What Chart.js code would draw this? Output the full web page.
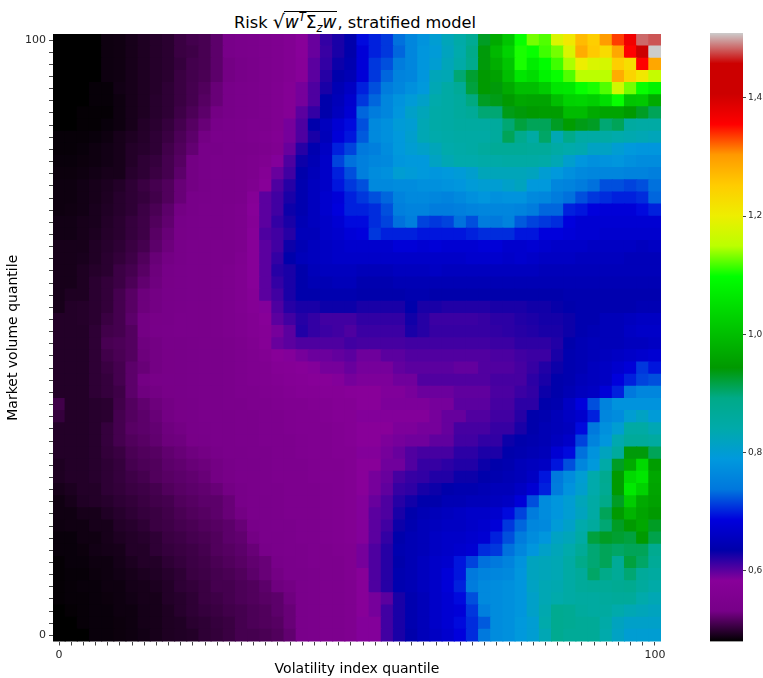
<!DOCTYPE html>
<html><head><meta charset="utf-8">
<script src="https://cdn.jsdelivr.net/npm/chart.js@4"></script>
<style>
html,body{margin:0;padding:0;background:#fff;width:763px;height:678px;overflow:hidden}
canvas{position:absolute;display:block}
#title{position:absolute;left:-2px;width:714px;top:11px;text-align:center;font:16.2px "DejaVu Sans";color:#000;white-space:nowrap;line-height:24px}
#title i{font-style:italic}
#title sup,#title sub{font-size:11.5px;line-height:0}
#title .r{font-size:19px;line-height:0}
#title .o{display:inline-block;border-top:1px solid #000;line-height:19px;padding:1px 1px 0 1px;font-size:17px;margin-left:-1px}
</style></head><body>
<div id="title">Risk <span class="r">√</span><span class="o"><i>w</i><sup><i>T</i></sup>Σ<sub><i>z</i></sub><i>w</i></span>, stratified model</div>
<canvas id="heat" style="left:0;top:0" width="700" height="678"></canvas>
<canvas id="bar" style="left:700px;top:0" width="63" height="678"></canvas>
<script>
const xTitle = 'Volatility index quantile';
const yTitle = 'Market volume quantile';
const axisTickLabels = {0:'0',49:'100'};
const colorbarTicks = [0.6,0.8,1.0,1.2,1.4];
const vMin = 0.48, vMax = 1.51;
const cmapR = [0,.4667,.5333,0,0,0,0,0,0,0,0,0,0,.7333,.9333,1,1,1,.8,.8,.8];
const cmapG = [0,0,0,0,0,.4667,.6,.6667,.6667,.6,.7333,.8667,1,1,.9333,.8,.6,0,0,0,.8];
const cmapB = [0,.5333,.6,.6667,.8667,.8667,.8667,.6667,.5333,0,0,0,0,0,0,0,0,0,0,0,.8];
// rows listed top (quantile 100) to bottom (quantile 0); columns 0-24
const riskLeft = [
[.48,.48,.48,.48,.486,.487,.49,.493,.496,.498,.505,.509,.511,.52,.535,.54,.545,.55,.555,.565,.583,.595,.615,.625,.635],
[.48,.48,.48,.48,.486,.487,.49,.493,.496,.498,.505,.507,.511,.52,.535,.54,.545,.55,.555,.565,.583,.595,.613,.625,.635],
[.48,.48,.48,.48,.486,.487,.49,.493,.496,.498,.503,.509,.511,.52,.53,.535,.54,.55,.555,.565,.58,.60,.615,.63,.64],
[.48,.48,.48,.48,.486,.487,.49,.493,.496,.498,.505,.509,.512,.52,.53,.535,.54,.55,.555,.565,.58,.60,.62,.635,.645],
[.48,.48,.48,.483,.483,.488,.49,.493,.496,.50,.505,.51,.515,.525,.535,.54,.545,.55,.56,.57,.59,.605,.625,.645,.66],
[.48,.48,.48,.483,.483,.486,.49,.493,.497,.50,.505,.51,.517,.525,.535,.54,.545,.55,.56,.57,.59,.605,.635,.65,.67],
[.48,.48,.482,.482,.482,.486,.49,.493,.497,.50,.507,.513,.52,.53,.535,.54,.545,.55,.56,.57,.60,.615,.635,.655,.675],
[.48,.48,.482,.482,.484,.486,.49,.495,.498,.503,.51,.517,.525,.535,.54,.545,.55,.55,.56,.59,.605,.635,.655,.675,.69],
[.483,.483,.483,.484,.486,.49,.493,.496,.50,.505,.513,.52,.53,.54,.54,.545,.55,.555,.565,.59,.605,.625,.65,.68,.695],
[.483,.483,.484,.486,.488,.49,.495,.497,.50,.508,.515,.523,.535,.535,.54,.54,.545,.55,.56,.595,.62,.64,.66,.70,.715],
[.484,.484,.485,.486,.488,.49,.495,.50,.503,.51,.517,.53,.535,.54,.54,.545,.55,.56,.585,.605,.63,.645,.665,.715,.735],
[.485,.485,.486,.488,.49,.49,.497,.50,.505,.51,.52,.53,.535,.54,.54,.545,.55,.57,.595,.61,.635,.65,.665,.70,.72],
[.486,.486,.488,.49,.492,.495,.50,.505,.51,.515,.525,.53,.535,.54,.54,.545,.555,.58,.605,.62,.64,.655,.665,.695,.71],
[.486,.486,.488,.49,.493,.497,.50,.503,.508,.515,.525,.535,.538,.54,.54,.545,.575,.60,.61,.625,.64,.655,.67,.68,.70],
[.486,.487,.488,.491,.494,.497,.50,.506,.512,.52,.53,.535,.54,.54,.545,.55,.58,.60,.61,.63,.64,.655,.67,.685,.70],
[.488,.488,.49,.491,.495,.498,.503,.507,.515,.522,.532,.537,.54,.54,.545,.55,.575,.60,.615,.625,.645,.655,.665,.675,.69],
[.488,.488,.49,.492,.496,.498,.503,.507,.518,.525,.533,.537,.54,.54,.545,.55,.58,.605,.61,.62,.65,.65,.665,.67,.68],
[.49,.49,.49,.494,.497,.50,.505,.51,.52,.527,.535,.54,.54,.545,.545,.55,.58,.60,.61,.63,.645,.655,.66,.665,.67],
[.49,.49,.491,.494,.498,.502,.507,.515,.525,.53,.535,.54,.54,.545,.545,.555,.58,.60,.615,.635,.65,.655,.66,.665,.665],
[.49,.49,.493,.496,.498,.506,.51,.518,.527,.532,.537,.54,.54,.545,.55,.56,.58,.60,.62,.625,.635,.65,.655,.655,.655],
[.49,.49,.493,.498,.502,.506,.513,.522,.528,.533,.537,.54,.54,.545,.55,.56,.58,.60,.615,.625,.635,.645,.645,.65,.65],
[.49,.493,.493,.498,.502,.51,.518,.527,.53,.535,.537,.54,.54,.545,.55,.56,.575,.60,.61,.625,.635,.635,.64,.64,.64],
[.49,.495,.496,.498,.502,.51,.518,.527,.53,.535,.537,.54,.54,.545,.55,.56,.57,.585,.605,.62,.625,.625,.63,.63,.63],
[.495,.495,.496,.498,.505,.51,.52,.53,.533,.535,.54,.54,.54,.545,.55,.555,.565,.58,.60,.61,.62,.615,.61,.61,.61],
[.495,.495,.495,.50,.508,.51,.516,.53,.535,.537,.54,.54,.54,.545,.55,.555,.565,.575,.59,.60,.622,.615,.612,.61,.605],
[.495,.495,.495,.50,.511,.513,.516,.528,.53,.535,.535,.537,.54,.54,.545,.55,.56,.575,.595,.60,.605,.605,.605,.605,.61],
[.495,.495,.495,.50,.508,.512,.516,.527,.53,.533,.535,.537,.54,.54,.545,.55,.555,.565,.58,.585,.59,.594,.594,.597,.60],
[.495,.495,.495,.50,.505,.51,.52,.525,.53,.533,.535,.537,.54,.54,.545,.55,.555,.56,.57,.575,.58,.585,.59,.59,.595],
[.495,.495,.495,.50,.503,.51,.52,.53,.533,.535,.535,.537,.54,.54,.545,.55,.555,.56,.565,.57,.575,.58,.58,.585,.59],
[.495,.495,.495,.50,.503,.507,.52,.528,.53,.533,.535,.537,.54,.54,.545,.55,.55,.555,.56,.565,.57,.57,.575,.575,.58],
[.508,.495,.495,.497,.498,.508,.516,.522,.527,.53,.533,.535,.54,.54,.545,.545,.55,.55,.555,.56,.56,.565,.565,.57,.57],
[.503,.495,.495,.497,.498,.51,.516,.52,.525,.53,.533,.535,.54,.54,.54,.545,.545,.55,.55,.555,.56,.56,.565,.57,.57],
[.495,.495,.495,.497,.503,.51,.518,.52,.523,.528,.53,.535,.537,.54,.54,.545,.545,.55,.55,.555,.56,.56,.56,.565,.57],
[.495,.495,.495,.497,.503,.51,.515,.518,.522,.527,.528,.533,.535,.54,.54,.545,.545,.55,.55,.55,.555,.56,.56,.565,.57],
[.495,.495,.495,.497,.502,.505,.512,.515,.517,.522,.525,.528,.53,.535,.54,.54,.545,.545,.55,.55,.555,.56,.56,.565,.565],
[.493,.495,.495,.497,.50,.503,.51,.513,.515,.52,.522,.525,.527,.53,.535,.54,.54,.545,.55,.55,.55,.555,.56,.56,.565],
[.493,.495,.495,.497,.50,.503,.507,.51,.515,.518,.52,.522,.525,.53,.533,.54,.54,.545,.55,.55,.55,.555,.56,.56,.565],
[.49,.492,.495,.495,.50,.502,.505,.507,.51,.515,.518,.52,.522,.525,.53,.535,.54,.545,.545,.55,.55,.55,.555,.56,.565],
[.487,.49,.494,.495,.497,.50,.502,.505,.508,.51,.515,.517,.52,.52,.525,.535,.54,.54,.545,.55,.55,.55,.555,.56,.565],
[.487,.487,.49,.49,.494,.497,.50,.503,.505,.508,.512,.515,.517,.52,.525,.53,.54,.54,.545,.55,.55,.55,.555,.56,.565],
[.486,.487,.487,.49,.49,.495,.497,.50,.505,.507,.51,.512,.515,.517,.52,.525,.535,.54,.545,.545,.55,.55,.555,.56,.565],
[.484,.484,.487,.487,.49,.493,.495,.497,.50,.505,.507,.51,.512,.515,.52,.522,.53,.54,.54,.545,.55,.55,.555,.56,.565],
[.484,.484,.485,.488,.489,.49,.495,.495,.50,.503,.505,.507,.51,.515,.517,.52,.525,.535,.54,.545,.545,.55,.55,.555,.56],
[.482,.484,.484,.486,.486,.489,.492,.495,.495,.50,.503,.506,.508,.512,.515,.518,.522,.525,.535,.54,.545,.55,.55,.55,.56],
[.482,.483,.483,.485,.486,.488,.49,.492,.494,.497,.50,.505,.507,.51,.512,.515,.52,.525,.53,.54,.54,.545,.55,.55,.56],
[.482,.483,.484,.484,.486,.486,.489,.49,.492,.495,.50,.502,.505,.51,.51,.513,.515,.52,.528,.53,.54,.545,.55,.55,.555],
[.482,.483,.483,.484,.485,.486,.488,.49,.49,.495,.497,.50,.505,.507,.51,.513,.515,.518,.52,.528,.54,.545,.55,.55,.555],
[.48,.482,.483,.484,.484,.486,.486,.489,.49,.493,.497,.50,.503,.505,.508,.51,.513,.515,.52,.525,.54,.545,.55,.55,.555],
[.48,.48,.483,.484,.484,.485,.486,.489,.49,.493,.494,.498,.50,.503,.505,.51,.513,.515,.517,.525,.54,.545,.55,.55,.555],
[.48,.48,.48,.484,.484,.485,.486,.488,.49,.493,.494,.495,.50,.502,.505,.51,.51,.512,.515,.522,.54,.545,.55,.55,.555]
];
// rows listed top to bottom; columns 25-49
const riskRight = [
[.69,.70,.71,.735,.76,.78,.80,.825,.845,.875,.93,.97,1.01,1.10,1.13,1.12,1.18,1.21,1.27,1.25,1.30,1.335,1.37,1.485,1.48],
[.68,.70,.71,.73,.76,.785,.795,.82,.84,.89,.94,.99,1.03,1.105,1.10,1.115,1.13,1.18,1.285,1.255,1.23,1.29,1.355,1.41,1.51],
[.68,.71,.72,.745,.76,.785,.80,.825,.845,.885,.94,.975,1.01,1.105,1.07,1.095,1.115,1.145,1.20,1.18,1.175,1.25,1.225,1.355,1.29],
[.68,.71,.73,.755,.76,.785,.825,.83,.90,.925,.945,.955,1.00,1.06,1.045,1.08,1.10,1.12,1.15,1.15,1.15,1.285,1.24,1.21,1.16],
[.70,.72,.745,.76,.775,.79,.83,.85,.87,.92,.945,.94,.97,1.00,1.00,1.02,1.06,1.065,1.10,1.105,1.12,1.17,1.13,1.10,1.08],
[.71,.73,.76,.78,.795,.81,.84,.85,.86,.895,.93,.935,.945,.965,.96,.96,1.00,1.03,1.035,1.025,1.05,1.10,1.01,1.015,.97],
[.73,.745,.76,.785,.81,.825,.845,.85,.86,.87,.90,.90,.935,.94,.945,.95,.95,.995,.995,.97,.96,.96,.945,.93,.91],
[.72,.765,.775,.795,.80,.83,.845,.85,.855,.855,.855,.86,.90,.92,.91,.91,.93,.95,.935,.93,.90,.91,.855,.85,.85],
[.725,.765,.775,.79,.805,.83,.84,.845,.85,.85,.85,.86,.91,.885,.85,.905,.83,.89,.85,.85,.85,.84,.835,.83,.825],
[.74,.75,.77,.79,.80,.81,.825,.84,.845,.85,.86,.87,.87,.87,.865,.865,.85,.84,.835,.815,.815,.80,.79,.785,.785],
[.75,.76,.765,.785,.79,.79,.815,.83,.84,.84,.845,.845,.85,.85,.85,.845,.83,.805,.785,.775,.78,.785,.775,.77,.77],
[.75,.77,.775,.80,.795,.79,.785,.79,.795,.805,.825,.825,.825,.825,.82,.80,.79,.775,.765,.76,.76,.76,.755,.755,.75],
[.72,.765,.765,.77,.77,.775,.775,.78,.785,.795,.80,.80,.81,.82,.79,.79,.76,.755,.745,.735,.72,.72,.715,.72,.735],
[.71,.72,.73,.755,.765,.765,.76,.755,.765,.775,.785,.775,.78,.78,.765,.76,.745,.735,.72,.71,.705,.70,.70,.705,.73],
[.70,.705,.72,.75,.755,.755,.745,.745,.75,.755,.76,.76,.76,.755,.745,.73,.73,.70,.695,.685,.68,.68,.68,.69,.70],
[.69,.705,.715,.735,.75,.715,.71,.715,.735,.72,.745,.74,.755,.725,.715,.71,.705,.685,.675,.675,.675,.675,.675,.675,.675],
[.685,.71,.70,.70,.70,.695,.695,.695,.695,.70,.705,.705,.705,.695,.695,.685,.685,.68,.675,.675,.67,.67,.67,.67,.67],
[.67,.67,.67,.68,.68,.675,.68,.675,.675,.675,.68,.68,.67,.67,.675,.67,.665,.665,.665,.66,.66,.66,.66,.655,.66],
[.665,.665,.665,.665,.665,.665,.665,.665,.665,.67,.67,.67,.665,.67,.665,.66,.66,.66,.655,.655,.655,.655,.65,.65,.65],
[.65,.65,.65,.655,.655,.655,.66,.655,.655,.655,.655,.655,.655,.655,.655,.65,.65,.65,.65,.65,.65,.65,.65,.65,.65],
[.64,.64,.64,.645,.645,.645,.645,.645,.645,.645,.645,.645,.645,.645,.645,.645,.645,.645,.645,.645,.645,.645,.645,.645,.645],
[.635,.635,.635,.635,.64,.64,.635,.635,.635,.635,.635,.635,.635,.635,.635,.635,.635,.64,.64,.64,.64,.64,.64,.64,.64],
[.625,.625,.625,.625,.635,.625,.625,.622,.622,.622,.622,.625,.625,.625,.628,.628,.632,.635,.64,.64,.64,.64,.64,.645,.645],
[.616,.616,.616,.616,.628,.62,.612,.612,.612,.612,.614,.618,.618,.622,.624,.627,.627,.63,.64,.64,.65,.65,.655,.66,.66],
[.612,.612,.612,.612,.625,.62,.614,.614,.614,.614,.614,.616,.618,.62,.622,.625,.625,.63,.64,.645,.65,.65,.66,.665,.665],
[.608,.608,.608,.608,.61,.61,.61,.61,.61,.61,.61,.612,.612,.617,.617,.617,.622,.635,.645,.65,.65,.65,.655,.655,.66],
[.593,.593,.60,.60,.604,.604,.604,.604,.604,.604,.604,.606,.606,.61,.612,.612,.625,.64,.645,.65,.655,.66,.665,.67,.675],
[.59,.59,.59,.597,.60,.60,.60,.60,.597,.597,.604,.604,.604,.608,.614,.622,.63,.64,.645,.655,.66,.67,.68,.71,.695],
[.587,.587,.587,.592,.592,.604,.604,.604,.604,.604,.604,.608,.608,.608,.618,.625,.635,.64,.65,.655,.66,.685,.70,.715,.72],
[.583,.583,.586,.586,.589,.594,.594,.594,.598,.598,.598,.606,.606,.612,.616,.63,.635,.645,.655,.66,.68,.70,.74,.76,.76],
[.583,.583,.587,.587,.587,.587,.59,.59,.60,.60,.60,.608,.608,.618,.618,.635,.64,.66,.685,.72,.755,.78,.78,.78,.78],
[.585,.585,.585,.585,.585,.585,.59,.596,.596,.604,.604,.61,.61,.62,.635,.64,.65,.66,.67,.70,.76,.77,.80,.815,.795],
[.583,.583,.583,.587,.587,.59,.59,.596,.608,.608,.608,.614,.614,.625,.635,.645,.65,.655,.69,.74,.775,.80,.85,.85,.83],
[.583,.583,.587,.59,.592,.592,.598,.598,.61,.61,.616,.616,.63,.635,.64,.645,.655,.665,.715,.755,.785,.835,.865,.865,.855],
[.585,.585,.59,.595,.604,.608,.608,.608,.618,.618,.624,.624,.635,.64,.645,.65,.675,.69,.735,.78,.82,.86,.94,.94,.91],
[.583,.583,.592,.592,.604,.614,.614,.618,.622,.622,.63,.635,.64,.65,.655,.66,.695,.72,.76,.79,.845,.93,.97,1.04,.95],
[.583,.59,.595,.608,.614,.616,.622,.622,.63,.63,.635,.64,.645,.65,.66,.695,.74,.77,.80,.84,.88,.945,1.04,1.06,.965],
[.583,.59,.598,.614,.617,.626,.63,.635,.64,.64,.645,.65,.65,.66,.675,.70,.745,.78,.805,.84,.875,.945,1.065,1.03,.96],
[.585,.595,.605,.62,.628,.635,.635,.645,.645,.65,.65,.655,.66,.68,.72,.77,.785,.80,.825,.85,.89,.93,1.02,.97,.955],
[.585,.60,.605,.625,.635,.645,.65,.655,.66,.665,.665,.67,.69,.715,.745,.77,.785,.80,.82,.85,.91,.945,.985,.96,.945],
[.585,.60,.61,.63,.64,.65,.655,.66,.66,.665,.67,.68,.71,.73,.76,.765,.795,.81,.84,.86,.90,.93,.945,.965,.93],
[.585,.60,.615,.635,.645,.65,.66,.665,.665,.67,.675,.70,.72,.745,.77,.785,.815,.825,.85,.92,.93,.925,.92,.945,.915],
[.59,.605,.62,.64,.645,.65,.66,.665,.67,.675,.705,.71,.735,.76,.785,.81,.825,.84,.87,.90,.91,.905,.91,.91,.88],
[.59,.605,.62,.635,.645,.655,.665,.67,.695,.715,.735,.74,.755,.78,.82,.825,.83,.85,.89,.90,.91,.87,.92,.905,.87],
[.58,.605,.62,.64,.645,.655,.665,.68,.695,.74,.755,.76,.765,.785,.82,.825,.83,.85,.865,.905,.89,.87,.90,.865,.855],
[.58,.605,.62,.64,.645,.655,.665,.68,.70,.745,.765,.77,.775,.785,.815,.83,.835,.85,.865,.87,.87,.875,.88,.86,.845],
[.58,.59,.60,.625,.64,.65,.665,.675,.69,.72,.765,.77,.775,.785,.81,.83,.84,.85,.855,.855,.86,.865,.865,.84,.83],
[.58,.59,.61,.625,.64,.65,.665,.675,.68,.71,.75,.77,.775,.785,.81,.835,.88,.875,.86,.855,.855,.84,.83,.825,.82],
[.585,.585,.61,.625,.64,.65,.665,.675,.69,.705,.725,.77,.775,.79,.80,.84,.88,.875,.87,.87,.845,.82,.81,.81,.81],
[.585,.585,.61,.625,.635,.65,.66,.67,.685,.705,.74,.77,.775,.79,.80,.83,.88,.87,.87,.87,.84,.815,.80,.80,.80]
];

const FONT = '"DejaVu Sans"';
function colorFor(v){
  const t = Math.max(0,Math.min(1,(v-vMin)/(vMax-vMin)))*20;
  const i = Math.min(19,Math.floor(t)), f = t-i;
  const c = a => Math.round(255*(a[i]+(a[i+1]-a[i])*f));
  return `rgb(${c(cmapR)},${c(cmapG)},${c(cmapB)})`;
}
const cells = [];
riskLeft.forEach((row,r)=>{
  row.concat(riskRight[r]).forEach((v,c)=>cells.push({x:c,y:riskLeft.length-1-r,v}));
});
const idx = Array.from({length:50},(_,i)=>i);
const tickLabel = v => axisTickLabels[v] ?? '';
const gridOpt = {display:true,drawOnChartArea:false,drawTicks:true,tickLength:4,color:'#444',lineWidth:1};

new Chart(document.getElementById('heat'),{
  type:'scatter',
  data:{datasets:[{data:cells,pointStyle:'rect',borderWidth:0,
    pointBorderWidth:0,
    pointRadius:c=>{const a=c.chart.chartArea; return a?((a.right-a.left)/50/2+0.55)/Math.SQRT1_2:9.4;},
    pointHoverRadius:9,
    clip:0,
    backgroundColor:c=>colorFor(c.raw?c.raw.v:vMin)}]},
  options:{
    responsive:false,animation:false,events:[],
    layout:{padding:{top:34,right:39,left:0,bottom:0}},
    plugins:{legend:{display:false},tooltip:{enabled:false},title:{display:false}},
    scales:{
      x:{type:'linear',min:-0.5,max:49.5,
        afterBuildTicks:s=>{s.ticks=idx.map(value=>({value}));},
        afterFit:s=>{s.height=36.5;},
        border:{display:false},grid:gridOpt,
        ticks:{autoSkip:false,maxRotation:0,padding:3,color:'#262626',font:{family:FONT,size:11},callback:tickLabel},
        title:{display:true,text:xTitle,color:'#000',padding:0,font:{family:FONT,size:14}}},
      y:{type:'linear',min:-0.5,max:49.5,
        afterBuildTicks:s=>{s.ticks=idx.map(value=>({value}));},
        afterFit:s=>{s.width=53;},
        border:{display:false},grid:gridOpt,
        ticks:{autoSkip:false,padding:3,color:'#262626',font:{family:FONT,size:11},callback:tickLabel},
        title:{display:true,text:yTitle,color:'#000',padding:{top:5,bottom:0},font:{family:FONT,size:14}}}
    }
  }
});

new Chart(document.getElementById('bar'),{
  type:'bar',
  data:{labels:['Risk'],datasets:[{data:[[vMin,vMax]],barPercentage:1,categoryPercentage:1,
    backgroundColor:c=>{
      const y=c.chart.scales.y;
      const y0=y?y.getPixelForValue(vMin):NaN, y1=y?y.getPixelForValue(vMax):NaN;
      if(!Number.isFinite(y0)||!Number.isFinite(y1)) return '#000';
      const g=c.chart.ctx.createLinearGradient(0,y0,0,y1);
      cmapR.forEach((_,i)=>g.addColorStop(i/20,colorFor(vMin+(vMax-vMin)*i/20)));
      return g;
    }}]},
  options:{
    responsive:false,animation:false,events:[],
    layout:{padding:{top:33,left:10,right:0,bottom:36.5}},
    plugins:{legend:{display:false},tooltip:{enabled:false}},
    scales:{
      x:{display:false},
      y:{position:'right',min:vMin,max:vMax,
        afterBuildTicks:s=>{s.ticks=colorbarTicks.map(value=>({value}));},
        afterFit:s=>{s.width=20;},
        border:{display:false},grid:{drawOnChartArea:false,drawTicks:true,tickLength:3,color:'#444'},
        ticks:{autoSkip:false,padding:2,color:'#262626',font:{family:FONT,size:9},
          callback:v=>v.toFixed(1).replace('.',',')}}
    }
  }
});
</script>
</body></html>
